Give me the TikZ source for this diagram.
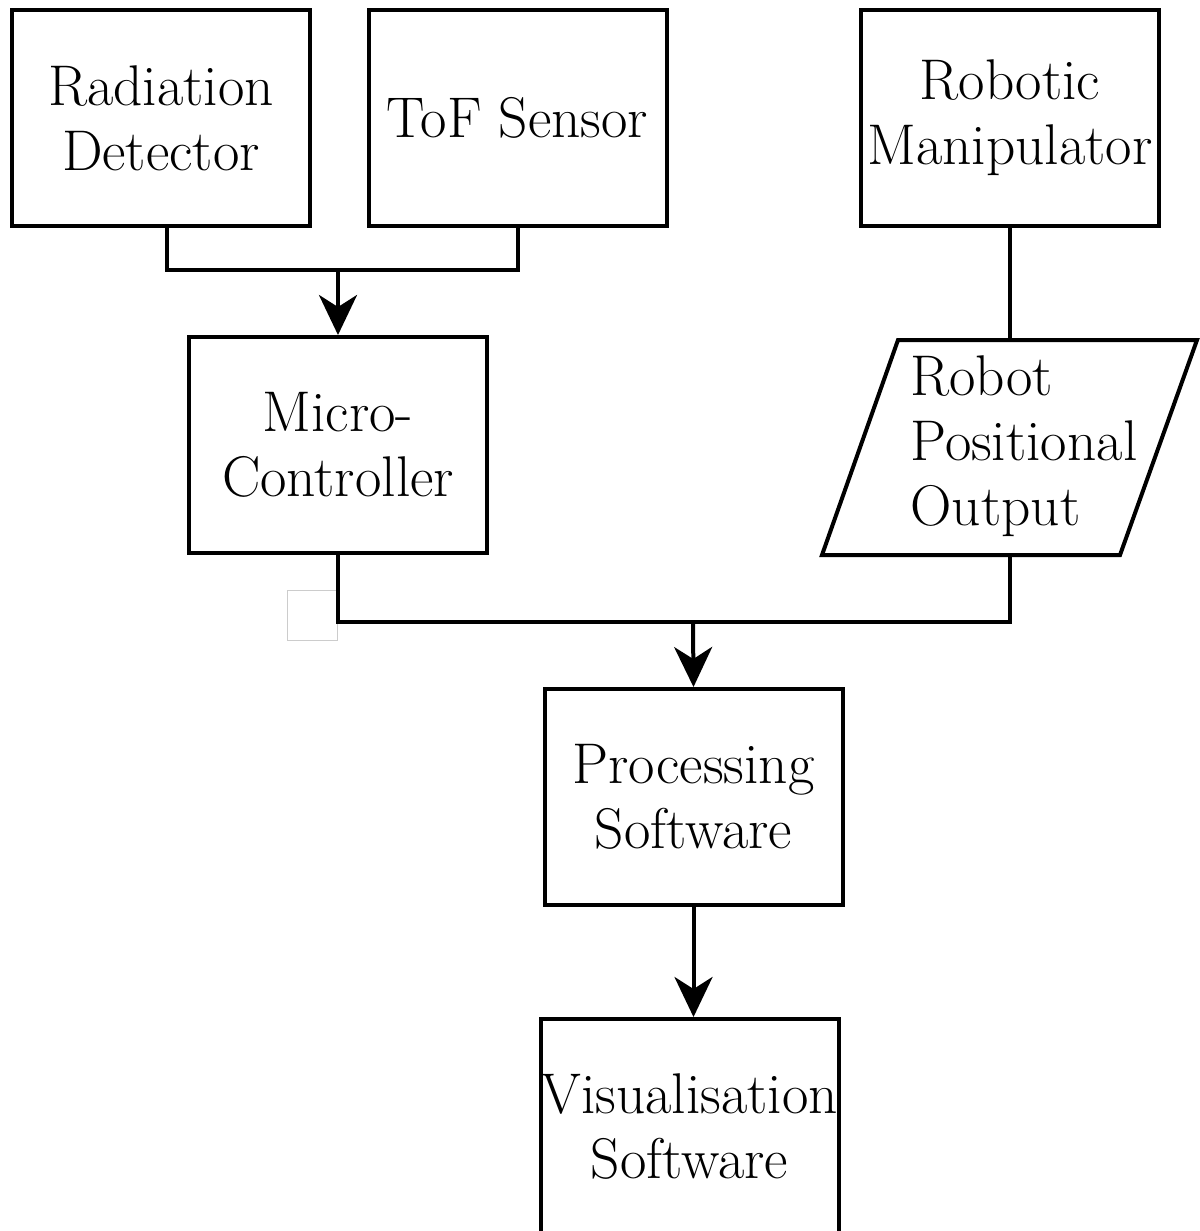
\documentclass[tikz,border=0pt]{standalone}
\usepackage{fontspec}
\usetikzlibrary{arrows.meta}

\begin{document}
\begin{tikzpicture}[x=0.5pt,y=-0.5pt,
  lbl/.style={font=\fontsize{28.7}{32.5}\selectfont},
  box/.style={lbl,draw,line width=2pt,minimum width=149pt,minimum height=108pt,inner sep=0pt,align=center},
  conn/.style={line width=2pt},
  arr/.style={conn,-{Stealth[length=20pt,width=19pt,inset=6pt]}}]
\useasboundingbox (0,0) rectangle (1199,1231);
%top row
\node[box] (rad) at (161,118) {Radiation\\Detector};
\node[box] (tof) at (517.5,118) {ToF Sensor};
\node[box] (rob) at (1010,118) {Robotic\\Manipulator};
%middle row
\node[box] (mc) at (338,445) {Micro-\\Controller};
\draw[conn,line join=miter] (898,340) -- (1197,340) -- (1120,555) -- (822,555) -- cycle;
\node[lbl,align=left,inner sep=0pt,anchor=west] (robpos) at (910,446) {Robot\\Positional\\Output};
\coordinate (robposT) at (1010,340);
\coordinate (robposB) at (1010,555);
\node[draw=black!20,line width=0.5pt,minimum size=25pt,inner sep=0pt] (blank) at (312,615) {};
%bottom
\node[box] (proc) at (693.5,797) {Processing\\Software};
\node[box] (vis) at (689.5,1127) {Visualisation\\Software};
%connectors
\coordinate (jn1) at (338,270);
\coordinate (jn2) at (693,622);
\draw[conn] ([xshift=3pt]rad.south) |- (jn1) -| (tof.south);
\draw[arr] (jn1) -- (mc.north);
\draw[conn] (rob.south) -- (robposT);
\draw[conn] (mc.south) |- (jn2) -| (robposB);
\draw[arr] (jn2) -- (proc.north);
\draw[arr] (proc.south) -- (proc.south |- vis.north);
\end{tikzpicture}
\end{document}
